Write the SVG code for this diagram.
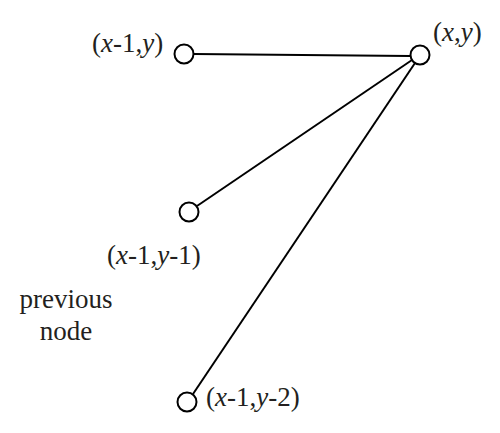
<svg xmlns="http://www.w3.org/2000/svg" width="500" height="433" viewBox="0 0 500 433">
<style>
.n{fill:#fff;stroke:#000;stroke-width:2}
.e{stroke:#000;stroke-width:2;fill:none}
text{font-size:27px;fill:#231f20}
.i{font-style:italic}
</style>
<rect width="500" height="433" fill="#fff"/>
<g id="connectors">
<line class="e" x1="194" y1="54" x2="410" y2="56"/>
<line class="e" x1="197" y1="206" x2="412" y2="60"/>
<line class="e" x1="193" y1="394" x2="415" y2="63"/>
</g>
<g font-family="Liberation Serif, DejaVu Serif, serif">
<g id="node-xy">
<circle class="n" cx="420" cy="55" r="9.5"/>
<text x="433" y="41">(<tspan class="i">x</tspan>,<tspan class="i">y</tspan>)</text>
</g>
<g id="node-x1y">
<circle class="n" cx="184" cy="54" r="9.5"/>
<text x="92" y="52">(<tspan class="i">x</tspan>-1,<tspan class="i">y</tspan>)</text>
</g>
<g id="node-x1y1">
<circle class="n" cx="189" cy="212" r="9.5"/>
<text x="107" y="264">(<tspan class="i">x</tspan>-1,<tspan class="i">y</tspan>-1)</text>
</g>
<g id="node-x1y2">
<circle class="n" cx="187" cy="402" r="9.5"/>
<text x="206" y="406">(<tspan class="i">x</tspan>-1,<tspan class="i">y</tspan>-2)</text>
</g>
<g id="label-previous">
<text x="66" y="308" text-anchor="middle">previous</text>
<text x="66" y="340" text-anchor="middle">node</text>
</g>
</g>
</svg>
